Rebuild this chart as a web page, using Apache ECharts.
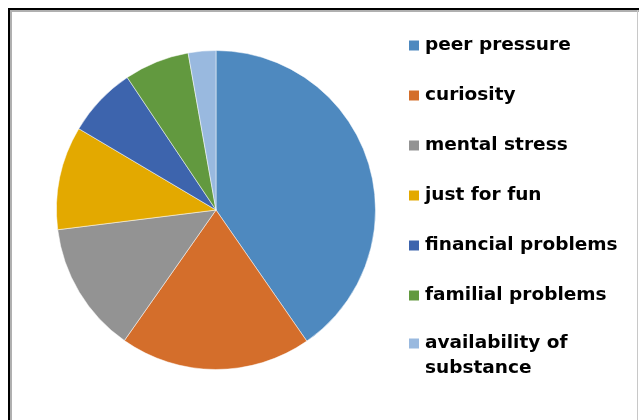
<!DOCTYPE html>
<html>
<head>
<meta charset="utf-8">
<script src="https://cdn.jsdelivr.net/npm/echarts@6/dist/echarts.min.js"></script>
<style>
  html, body { margin: 0; padding: 0; background: #fff; }
  #chart { width: 639px; height: 420px; }
</style>
</head>
<body>
<div id="chart"></div>
<script>
var reasons = ['peer pressure', 'curiosity', 'mental stress', 'just for fun',
               'financial problems', 'familial problems', 'availability of substance'];
var shares = [40.4, 19.4, 13.3, 10.5, 7.1, 6.6, 2.8];
var colors = ['#4e89bf', '#d46e2b', '#939393', '#e3a900', '#3d64ad', '#62993f', '#99b9df'];

var myChart = echarts.init(document.getElementById('chart'));

var pieData = [];
for (var i = 0; i < reasons.length; i++) {
    pieData.push({ name: reasons[i], value: shares[i], itemStyle: { color: colors[i] } });
}

function makeLegend(names, top, fmt) {
    return {
        orient: 'vertical',
        left: 407,
        top: top,
        padding: 0,
        itemWidth: 12,
        itemHeight: 12,
        itemGap: 25,
        icon: 'rect',
        selectedMode: false,
        data: names,
        formatter: fmt,
        textStyle: {
            fontFamily: 'DejaVu Sans',
            fontWeight: 'bold',
            fontSize: 18.5,
            lineHeight: 25,
            color: '#000',
            width: 210,
            overflow: 'break'
        }
    };
}

option = {
    animation: false,
    backgroundColor: '#fff',
    graphic: [
        { type: 'rect', shape: { x: 8, y: 8, width: 631, height: 2 }, style: { fill: '#000' } },
        { type: 'rect', shape: { x: 8, y: 8, width: 2, height: 412 }, style: { fill: '#000' } },
        { type: 'rect', shape: { x: 10, y: 10, width: 629, height: 2 }, style: { fill: '#b0b0b0' } },
        { type: 'rect', shape: { x: 10, y: 10, width: 2, height: 410 }, style: { fill: '#b0b0b0' } },
        { type: 'rect', shape: { x: 637, y: 10, width: 1, height: 410 }, style: { fill: '#c8c8c8' } }
    ],
    legend: [
        makeLegend(reasons.slice(0, 6), 33, '{name}'),
        // wrapped label: empty first line keeps "availability of" level with the box
        makeLegend(reasons.slice(6), 306, function (n) { return '\n' + n; })
    ],
    series: [{
        type: 'pie',
        center: [216, 210],
        radius: 159.5,
        startAngle: 90,
        clockwise: true,
        label: { show: false },
        labelLine: { show: false },
        emphasis: { disabled: true },
        itemStyle: { borderColor: '#fff', borderWidth: 0.5 },
        data: pieData
    }]
};

if (option && typeof option === "object") {
    myChart.setOption(option, true);
}
</script>
</body>
</html>
